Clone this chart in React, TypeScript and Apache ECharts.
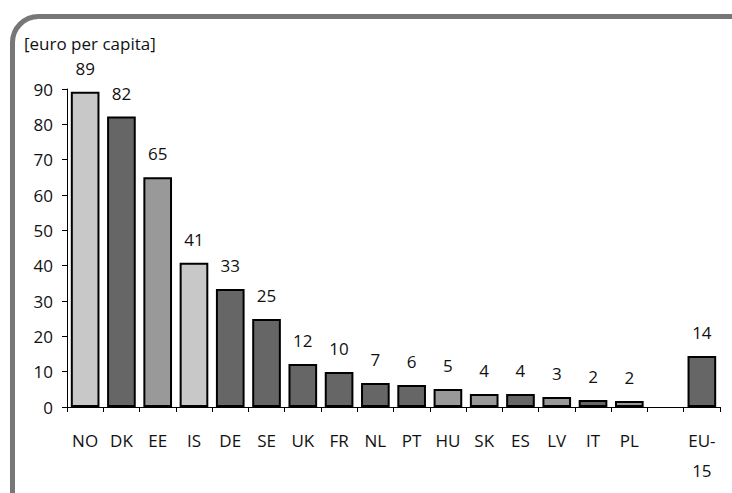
import React, { useEffect, useRef } from "react";
import * as echarts from "echarts";

const categories = ["NO", "DK", "EE", "IS", "DE", "SE", "UK", "FR", "NL", "PT", "HU", "SK", "ES", "LV", "IT", "PL", "", "EU-\n15"];
const values: (number | null)[] = [89.2, 82.2, 65.0, 40.8, 33.4, 24.9, 12.2, 9.9, 6.8, 6.2, 5.1, 3.7, 3.7, 2.8, 2.0, 1.7, null, 14.4];
const valueLabels = ["89", "82", "65", "41", "33", "25", "12", "10", "7", "6", "5", "4", "4", "3", "2", "2", "", "14"];
const shades = ["light", "dark", "mid", "light", "dark", "dark", "dark", "dark", "dark", "dark", "mid", "mid", "dark", "mid", "dark", "mid", "", "dark"];
const yTicks = [0, 10, 20, 30, 40, 50, 60, 70, 80, 90];
const unitLabel = "[euro per capita]";

const shadeColor: Record<string, string> = { light: "#c8c8c8", mid: "#999999", dark: "#666666", "": "#666666" };

export default function App() {
  const ref = useRef<HTMLDivElement>(null);
  useEffect(() => {
    document.body.style.margin = "0";
    const chart = echarts.init(ref.current!, undefined, { renderer: "svg" });
    const font = "'Open Sans', 'Noto Sans', sans-serif";
    chart.setOption({
      animation: false,
      textStyle: { fontFamily: font },
      graphic: [
        {
          type: "rect",
          shape: { x: 12.5, y: 16.5, width: 760, height: 520, r: 26 },
          style: { fill: "none", stroke: "#777777", lineWidth: 5 },
          z: 0,
        },
        {
          type: "text",
          x: 24,
          y: 35,
          style: { text: unitLabel, font: `17px ${font}`, fill: "#111" },
        },
      ],
      grid: { left: 67, right: 12, top: 89, bottom: 86, containLabel: false },
      xAxis: {
        type: "category",
        data: categories,
        axisLine: { lineStyle: { color: "#000", width: 1 } },
        axisTick: { show: true, length: 5, lineStyle: { color: "#000" } },
        axisLabel: {
          interval: 0,
          color: "#111",
          fontSize: 17,
          fontFamily: font,
          margin: 18,
          lineHeight: 30,
        },
      },
      yAxis: {
        type: "value",
        min: 0,
        max: 90,
        interval: 10,
        splitLine: { show: false },
        axisLine: { show: true, lineStyle: { color: "#000", width: 1 } },
        axisTick: { show: true, length: 5, lineStyle: { color: "#000" } },
        axisLabel: {
          color: "#111",
          fontSize: 17,
          fontFamily: font,
          margin: 14,
          formatter: (v: number) => (yTicks.includes(v) ? String(v) : ""),
        },
      },
      series: [
        {
          type: "bar",
          barWidth: "79%",
          data: values.map((v, i) => ({
            value: v,
            itemStyle: { color: shadeColor[shades[i]], borderColor: "#000", borderWidth: 2 },
          })),
          label: {
            show: true,
            position: "top",
            distance: 15,
            color: "#111",
            fontSize: 17,
            fontFamily: font,
            formatter: (p: any) => valueLabels[p.dataIndex],
          },
        },
      ],
    });
    return () => chart.dispose();
  }, []);
  return <div ref={ref} style={{ width: 732, height: 493 }} />;
}
